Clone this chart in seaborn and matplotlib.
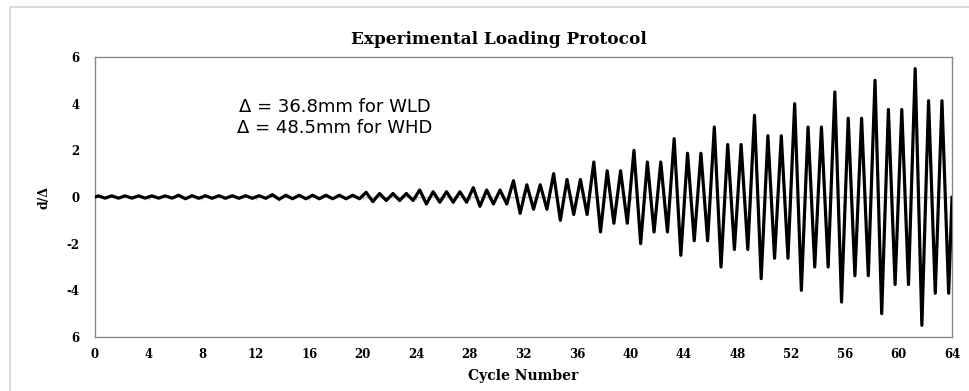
import matplotlib
matplotlib.use("Agg")
import matplotlib.pyplot as plt
from matplotlib.patches import Rectangle
import numpy as np
import pandas as pd
import seaborn as sns

# Peak displacement ratio d/Δ reached in each of the 64 cycles (cycle 0 .. 63)
peak_ratio = [
    0.05, 0.05, 0.05, 0.05, 0.05, 0.05,
    0.075, 0.056, 0.056, 0.056, 0.056, 0.056, 0.056,
    0.1, 0.075, 0.075, 0.075, 0.075, 0.075, 0.075,
    0.2, 0.15, 0.15, 0.15,
    0.3, 0.225, 0.225, 0.225,
    0.4, 0.3, 0.3,
    0.7, 0.525, 0.525,
    1.0, 0.75, 0.75,
    1.5, 1.125, 1.125,
    2.0, 1.5, 1.5,
    2.5, 1.875, 1.875,
    3.0, 2.25, 2.25,
    3.5, 2.625, 2.625,
    4.0, 3.0, 3.0,
    4.5, 3.375, 3.375,
    5.0, 3.75, 3.75,
    5.5, 4.125, 4.125,
]

x_ticks = [0, 4, 8, 12, 16, 20, 24, 28, 32, 36, 40, 44, 48, 52, 56, 60, 64]
y_ticks = [-6, -4, -2, 0, 2, 4, 6]
y_tick_labels = ["6", "-4", "-2", "0", "2", "4", "6"]

title = "Experimental Loading Protocol"
x_label = "Cycle Number"
y_label = "d/Δ"
note = "Δ = 36.8mm for WLD\nΔ = 48.5mm for WHD"

# Each cycle: positive peak at a quarter, negative peak at three quarters
cycle_x = [0.0]
cycle_y = [0.0]
for i, a in enumerate(peak_ratio):
    cycle_x += [i + 0.25, i + 0.75]
    cycle_y += [a, -a]
cycle_x.append(float(len(peak_ratio)))
cycle_y.append(0.0)
history = pd.DataFrame({"cycle": cycle_x, "ratio": cycle_y})

sns.set_style("white")
plt.rcParams["font.family"] = ["DejaVu Serif"]
plt.rcParams["text.color"] = "black"
plt.rcParams["axes.labelcolor"] = "black"

fig = plt.figure(figsize=(9.70, 3.91), dpi=100)
fig.patch.set_facecolor("white")
ax = fig.add_axes([95 / 970, 1 - 337 / 391, 857 / 970, 280 / 391])

# Light chart-area border
fig.patches.append(Rectangle((10 / 970, -0.05), 1.2, 1.05 - 7.5 / 391,
                             transform=fig.transFigure, fill=False,
                             edgecolor="#d4d4d4", linewidth=1.2, zorder=0))

# Horizontal axis line at zero with small tick marks
ax.axhline(0, color="#b8b8b8", linewidth=0.9, zorder=1)
ax.vlines(x_ticks, -0.13, 0, color="#b8b8b8", linewidth=0.9, zorder=1)

sns.lineplot(data=history, x="cycle", y="ratio", ax=ax, color="black",
             linewidth=2.3, estimator=None, sort=False, zorder=3)

ax.set_xlim(0, 64)
ax.set_ylim(-6, 6)
ax.set_xticks(x_ticks)
ax.set_yticks(y_ticks)
ax.set_yticklabels(y_tick_labels)
ax.tick_params(axis="both", length=0, labelsize=8.5, colors="black")
ax.tick_params(axis="x", pad=8)
ax.tick_params(axis="y", pad=11)
for lab in ax.get_xticklabels() + ax.get_yticklabels():
    lab.set_fontweight("bold")

for s in ax.spines.values():
    s.set_color("#8a8a8a")
    s.set_linewidth(1.0)

ax.set_xlabel(x_label, fontsize=10, fontweight="bold", labelpad=6, color="black")
ax.set_ylabel(y_label, fontsize=9, fontweight="bold", color="black")
ax.yaxis.set_label_coords(-0.0525, 0.5)

fig.text(0.514, 1 - 40 / 391, title, ha="center", va="center",
         fontsize=12.2, fontweight="bold", color="black")

ax.text(0.2795, 0.784, note, transform=ax.transAxes, ha="center", va="center",
        fontsize=13, family=["DejaVu Sans"], linespacing=1.2, color="black")

fig.savefig("out.png", dpi=100, facecolor="white")
